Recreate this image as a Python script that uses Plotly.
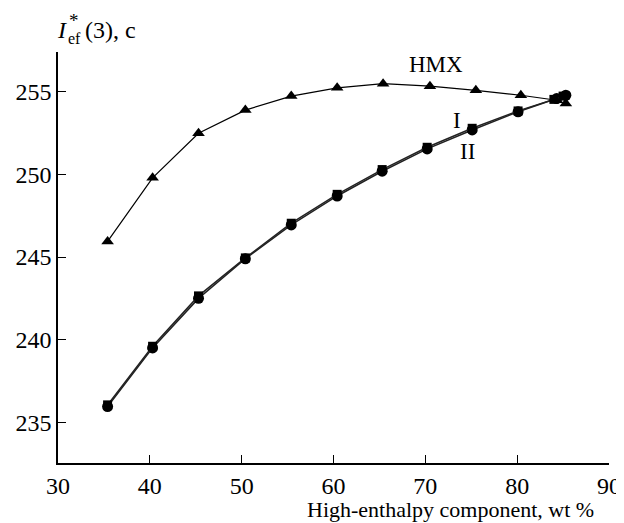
import plotly.graph_objects as go

hmx_x = [35.4, 40.3, 45.3, 50.4, 55.4, 60.4, 65.4, 70.5, 75.5, 80.4, 84.3, 85.3]
hmx_y = [245.95, 249.8, 252.5, 253.9, 254.75, 255.25, 255.5, 255.35, 255.1, 254.8, 254.5, 254.3]

i_x = [35.4, 40.3, 45.3, 50.4, 55.4, 60.4, 65.3, 70.2, 75.1, 80.1, 84.0, 85.0]
i_y = [236.05, 239.6, 242.65, 244.95, 247.05, 248.8, 250.3, 251.65, 252.8, 253.85, 254.55, 254.75]

ii_x = [35.4, 40.3, 45.3, 50.4, 55.4, 60.4, 65.3, 70.2, 75.1, 80.1, 84.3, 85.3]
ii_y = [235.95, 239.5, 242.5, 244.9, 246.95, 248.7, 250.2, 251.55, 252.7, 253.8, 254.6, 254.8]

x_ticks = [30, 40, 50, 60, 70, 80, 90]
y_ticks = [235, 240, 245, 250, 255]

font = "Liberation Serif, Times New Roman, serif"
OFF = 8  # page body margin
W, H = 624 - OFF, 523 - OFF
L, R, T, B = 58 - OFF, 15, 52 - OFF, 60
PW, PH = W - L - R, H - T - B


def px(xp):
    return (xp - OFF - L) / PW


def py(yp):
    return (H - B - (yp - OFF)) / PH


fig = go.Figure()
fig.add_trace(go.Scatter(x=hmx_x, y=hmx_y, mode="lines+markers",
                         line=dict(color="black", width=1.2),
                         marker=dict(symbol="triangle-up", size=11, color="black")))
fig.add_trace(go.Scatter(x=ii_x, y=ii_y, mode="lines+markers",
                         line=dict(color="#222", width=1.5),
                         marker=dict(symbol="circle", size=11, color="black")))
fig.add_trace(go.Scatter(x=i_x, y=i_y, mode="lines+markers",
                         line=dict(color="#222", width=1.5),
                         marker=dict(symbol="square", size=9, color="black")))

fig.update_layout(
    width=W, height=H,
    margin=dict(l=L, r=R, t=T, b=B),
    paper_bgcolor="white", plot_bgcolor="white",
    showlegend=False,
    font=dict(family=font, size=24, color="black"),
    xaxis=dict(range=[30, 90], tickvals=x_ticks, ticks="inside", ticklen=8,
               tickwidth=1.2, tickcolor="black", showline=True, linecolor="black",
               linewidth=1.5, showgrid=False, zeroline=False, automargin=False,
               tickfont=dict(family=font, size=24)),
    yaxis=dict(range=[232.53, 257.42], tickvals=y_ticks, ticks="inside", ticklen=8,
               tickwidth=1.2, tickcolor="black", showline=True, linecolor="black",
               linewidth=1.5, showgrid=False, zeroline=False, automargin=False,
               tickfont=dict(family=font, size=24)),
)

fig.add_annotation(x=71.2, y=256.65, xref="x", yref="y", text="HMX", showarrow=False,
                   font=dict(family=font, size=23))
fig.add_annotation(x=73.4, y=253.3, xref="x", yref="y", text="I", showarrow=False,
                   font=dict(family=font, size=23))
fig.add_annotation(x=74.6, y=251.4, xref="x", yref="y", text="II", showarrow=False,
                   font=dict(family=font, size=23))

# y-axis title pieces
fig.add_annotation(x=px(55), y=py(30), xref="paper", yref="paper",
                   xanchor="left", yanchor="middle",
                   text="<i>I</i>", showarrow=False,
                   font=dict(family=font, size=24))
fig.add_annotation(x=px(67), y=py(21), xref="paper", yref="paper",
                   xanchor="left", yanchor="middle",
                   text="*", showarrow=False,
                   font=dict(family=font, size=19))
fig.add_annotation(x=px(66), y=py(38), xref="paper", yref="paper",
                   xanchor="left", yanchor="middle",
                   text="ef", showarrow=False,
                   font=dict(family=font, size=16))
fig.add_annotation(x=px(83), y=py(30), xref="paper", yref="paper",
                   xanchor="left", yanchor="middle",
                   text="(3), c", showarrow=False,
                   font=dict(family=font, size=24))
fig.add_annotation(x=px(596), y=py(509), xref="paper", yref="paper",
                   xanchor="right", yanchor="middle",
                   text="High-enthalpy component, wt %", showarrow=False,
                   font=dict(family=font, size=22))

fig.write_html("out.html")
